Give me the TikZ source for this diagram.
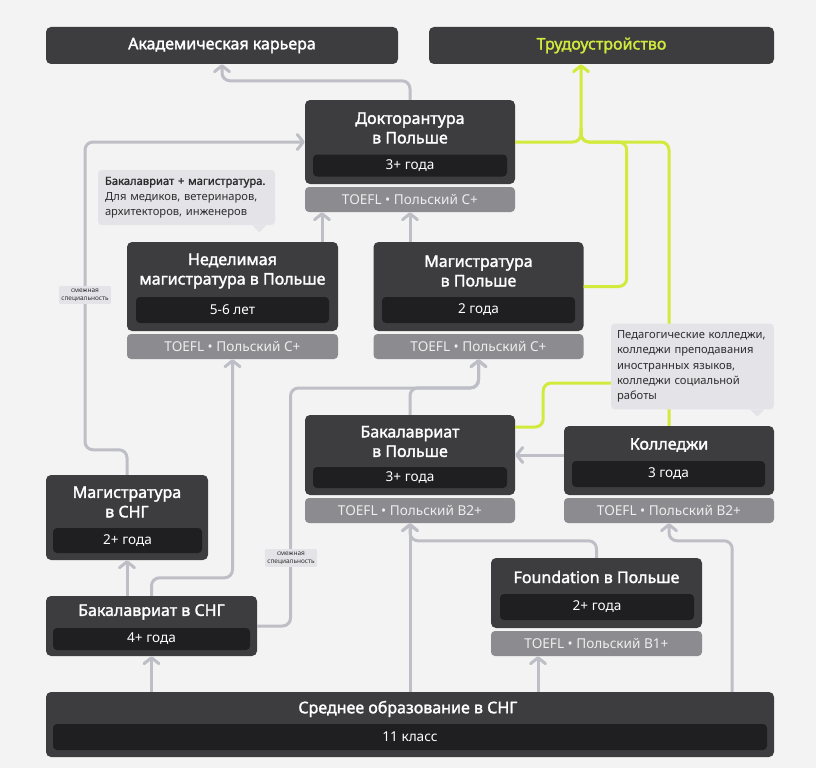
\documentclass[tikz,border=0pt]{standalone}
\usepackage{fontspec}
\setmainfont{Noto Sans}[AutoFakeBold=1.8]
\usetikzlibrary{
  calc, arrows.meta,
}
\definecolor{pagebg}{HTML}{F3F3F3}
\definecolor{card}{HTML}{3D3D3F}
\definecolor{cardbar}{HTML}{1F1F21}
\definecolor{reqgray}{HTML}{8B8B90}
\definecolor{reqtext}{HTML}{EEEEEE}
\definecolor{notefill}{HTML}{E4E4E8}
\definecolor{notetext}{HTML}{2E2E30}
\definecolor{linegray}{HTML}{BEBEC6}
\definecolor{joblime}{HTML}{D2EA3C}

\begin{document}
\begin{tikzpicture}[
    x=1pt, y=-1pt,
    box/.style={
        rectangle, rounded corners=5pt,
        fill=card, inner sep=0pt,
      },
    ttl/.style={
        text=white, align=center, inner sep=0pt,
        font=\bfseries\fontsize{16}{19.5}\selectfont,
      },
    bar/.style={
        rectangle, rounded corners=4pt,
        fill=cardbar, text=white, inner sep=0pt,
        font=\fontsize{13.6}{15}\selectfont,
      },
    req/.style={
        rectangle, rounded corners=4pt,
        fill=reqgray, text=reqtext, inner sep=0pt,
        minimum height=25pt,
        font=\fontsize{13.6}{15}\selectfont,
      },
    note/.style={
        rectangle, rounded corners=4pt,
        fill=notefill, text=notetext, align=left,
        inner xsep=7pt, inner ysep=7pt,
        font=\fontsize{11.2}{15.3}\selectfont,
      },
    tag/.style={
        rectangle, rounded corners=2pt,
        fill=notefill, text=notetext, align=center,
        inner sep=2.5pt,
        font=\fontsize{6.5}{8.5}\selectfont,
      },
    conn/.style={
        draw=linegray, line width=3pt, rounded corners=8pt,
        -{Straight Barb[length=6pt,width=15pt,round]},
      },
    job/.style={
        draw=joblime, line width=3pt, rounded corners=8pt,
      }
  ]
  \fill[pagebg] (0,0) rectangle (816,768);
  \useasboundingbox (0,0) rectangle (816,768);

  % goals
  \node[box, minimum width=352pt, minimum height=37pt,
    text=white, font=\bfseries\fontsize{16}{18}\selectfont]
    (akad) at (222,45.5) {Академическая карьера};
  \node[box, minimum width=345pt, minimum height=37pt,
    text=joblime, font=\bfseries\fontsize{16}{18}\selectfont]
    (trud) at (601.5,45.5) {Трудоустройство};

  % cards
  \foreach \n/\x/\y/\w/\h/\ty/\t in {
      dok/410/142/210/84/128/{Докторантура\\в Польше},
      ned/232.5/286.5/211/89/271/{Неделимая\\магистратура в Польше},
      magp/478.5/286.5/210/89/271/{Магистратура\\в Польше},
      bakp/410/455/210/80/441.5/{Бакалавриат\\в Польше},
      kol/669/460.5/210/69/445/{Колледжи},
      magsng/127/517.5/162/85/502/{Магистратура\\в СНГ},
      baksng/151.5/626/211/60/612/{Бакалавриат в СНГ},
      fnd/596.5/593/211/70/577/{Foundation в Польше},
      sred/410/724.5/728/65/709/{Среднее образование в СНГ}
    }{
      \node[box, minimum width=\w pt, minimum height=\h pt] (\n) at (\x,\y) {};
      \node[ttl] (\n T) at (\x,\ty) {\t};
    }

  % durations
  \foreach \n/\x/\y/\w/\h/\t in {
      dokY/410/165.5/194/22/3+ года,
      nedY/232.5/310/193/26/5-6 лет,
      magpY/478.5/310/193/26/2 года,
      bakpY/410/477.5/194/21/3+ года,
      kolY/668.5/474/193/26/3 года,
      magsngY/127.5/540.5/149/25/2+ года,
      baksngY/151.5/639/197/22/4+ года,
      fndY/597/607/194/26/2+ года,
      sredY/410/737/714/26/11 класс
    }{
      \node[bar, minimum width=\w pt, minimum height=\h pt] (\n) at (\x,\y) {\t};
    }

  % language requirements
  \foreach \n/\x/\y/\w/\t in {
      dokR/410/199.5/210/TOEFL • Польский C+,
      nedR/232.5/346.5/211/TOEFL • Польский C+,
      magpR/478.5/346.5/210/TOEFL • Польский C+,
      bakpR/410/510.5/210/TOEFL • Польский B2+,
      kolR/669/510.5/210/TOEFL • Польский B2+,
      fndR/596.5/643.5/211/TOEFL • Польский B1+
    }{
      \node[req, minimum width=\w pt] (\n) at (\x,\y) {\t};
    }

  \coordinate (jl) at (85,142);
  \coordinate (jm) at (290.5,388);
  \coordinate (dn) at ($(dokR.south)+(-88,0)$);
  \coordinate (fs) at ($(fndR.south)+(-58.5,0)$);
  \coordinate (tr) at ($(trud.south)+(-20.5,0)$);
  \coordinate (tj) at (tr |- dok.east);
  \coordinate (lj) at (668,383);

  % gray paths
  \draw[conn] (baksng.south |- sred.north) -- (baksng.south);
  \draw[conn] (magsng.south |- baksng.north) -- (magsng.south);
  \draw[conn] (baksng.north) -- ++(0,-18) -| (nedR.south);
  \draw[conn] (baksng.east) -| (jm) -| (magpR.south);
  \draw[conn] (bakp.north) -- ++(0,-27) -| (magpR.south);
  \draw[conn] (magsng.north) -- ++(0,-25) -| (jl) -- (dok.west);
  \draw[conn] (ned.north -| dn) -- (dn);
  \draw[conn] (dokR.south |- magp.north) -- (dokR.south);
  \draw[conn] (dok.north) -- ++(0,-19) -| (akad.south);
  \draw[conn] (kol.west |- bakp.east) -- (bakp.east);
  \draw[conn] (bakpR.south |- sred.north) -- (bakpR.south);
  \draw[conn] (fnd.north) -- ++(0,-17) -| (bakpR.south);
  \draw[conn] (sred.north -| fs) -- (fs);
  \draw[conn] ([xshift=-42pt]sred.north east) -- ++(0,-151) -| (kolR.south);

  % lime paths
  \draw[job, -{Straight Barb[length=6pt,width=15pt,round]}] (dok.east) -| (tr);
  \draw[job] ([yshift=14pt]tj) -- (tj) -| ($(magp.east)+(43,0)$) -- (magp.east);
  \draw[job] ([yshift=14pt]tj) -- (tj) -| (kol.north);
  \draw[job] ([yshift=28pt]bakp.east) -- ++(28,0) |- (lj);

  % notes
  \node[note, text width=163pt] (noteA) at (186.5,197.5)
    {\textbf{Бакалавриат + магистратура.}\\Для медиков, ветеринаров,\\архитекторов, инженеров};
  \fill[notefill] ([xshift=-23pt]noteA.south east) -- ++(7,7) -- ++(7,-7) -- cycle;
  \node[note, text width=151pt, inner xsep=6pt] (noteB) at (692.5,366.5)
    {Педагогические колледжи,\\колледжи преподавания\\иностранных языков,\\колледжи социальной\\работы};
  \fill[notefill] ([xshift=-24pt]noteB.south east) -- ++(7,7) -- ++(7,-7) -- cycle;

  \node[tag] (tagA) at (85,295) {смежная\\специальность};
  \node[tag] (tagB) at (291,558) {смежная\\специальность};
\end{tikzpicture}
\end{document}
